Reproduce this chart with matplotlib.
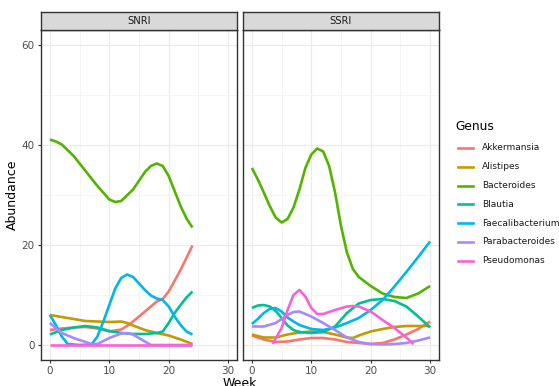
import numpy as np
import matplotlib
matplotlib.use('Agg')
import matplotlib.pyplot as plt
from matplotlib.lines import Line2D
from matplotlib.ticker import MultipleLocator

# generos y colores (paleta hue de ggplot)
GENEROS = ["Akkermansia", "Alistipes", "Bacteroides", "Blautia",
           "Faecalibacterium", "Parabacteroides", "Pseudomonas"]
COLORES = ["#F8766D", "#C49A00", "#53B400", "#00C094",
           "#00B6EB", "#A58AFF", "#FB61D7"]

# ---- SNRI (curvas suavizadas) ----
snri_akk_w = [0, 2, 4, 6, 8, 10, 12, 13, 14, 16, 18, 19, 20, 22, 24]
snri_akk_v = [3.0, 3.3, 3.5, 3.6, 3.3, 2.7, 3.1, 3.8, 4.7, 6.7, 8.7, 9.2, 10.7, 15.0, 19.9]

snri_ali_w = [0, 2, 4, 6, 8, 10, 12, 13, 14, 16, 18, 20, 22, 24]
snri_ali_v = [6.0, 5.6, 5.2, 4.8, 4.7, 4.6, 4.7, 4.4, 3.9, 3.0, 2.4, 1.9, 1.1, 0.2]

snri_bac_w = [0, 1, 2, 4, 6, 8, 10, 11, 12, 14, 16, 17, 18, 19, 20, 21, 22, 23, 24]
snri_bac_v = [41.1, 40.7, 40.1, 37.8, 34.8, 31.8, 29.1, 28.6, 28.8, 31.1, 34.6, 35.8, 36.3, 35.8,
              33.8, 30.8, 27.8, 25.3, 23.5]

snri_bla_w = [0, 2, 4, 6, 8, 10, 12, 14, 16, 18, 19, 20, 21, 22, 23, 24]
snri_bla_v = [2.1, 3.0, 3.5, 3.8, 3.5, 2.8, 2.4, 2.2, 2.2, 2.4, 2.7, 4.4, 6.4, 8.0, 9.5, 10.7]

snri_fae_w = [0, 1, 2, 3, 5, 7, 8, 9, 10, 11, 12, 13, 14, 15, 16, 17, 18, 19, 20, 21, 22, 23, 24]
snri_fae_v = [6.0, 4.0, 1.7, 0.2, 0.0, 0.1, 1.7, 4.7, 8.0, 11.3, 13.4, 14.1, 13.6, 12.3, 11.0,
              9.9, 9.3, 9.0, 7.7, 5.7, 4.0, 2.7, 2.1]

snri_par_w = [0, 1, 2, 4, 6, 7, 8, 10, 12, 13, 14, 16, 17, 20, 24]
snri_par_v = [4.4, 3.4, 2.4, 1.4, 0.6, 0.2, 0.2, 1.4, 2.3, 2.4, 2.1, 0.7, 0.0, 0.0, 0.0]

snri_pse_w = [0, 6, 12, 18, 24]
snri_pse_v = [0.0, 0.0, 0.0, 0.0, 0.0]

# ---- SSRI ----
ssri_akk_w = [0, 2, 4, 6, 8, 10, 12, 14, 16, 18, 20, 22, 24, 26, 28, 30]
ssri_akk_v = [1.9, 1.1, 0.6, 0.7, 1.1, 1.4, 1.4, 1.1, 0.6, 0.4, 0.2, 0.4, 1.1, 2.1, 3.2, 4.7]

ssri_ali_w = [0, 2, 4, 6, 8, 10, 12, 14, 16, 17, 18, 20, 22, 24, 26, 28, 30]
ssri_ali_v = [2.1, 1.5, 1.5, 2.1, 2.5, 2.7, 2.6, 2.1, 1.5, 1.4, 1.9, 2.7, 3.2, 3.6, 3.8, 3.8, 3.8]

ssri_bac_w = [0, 1, 2, 3, 4, 5, 6, 7, 8, 9, 10, 11, 12, 13, 14, 15, 16, 17, 18, 20, 22, 24,
              26, 28, 30]
ssri_bac_v = [35.4, 33.1, 30.5, 27.8, 25.5, 24.5, 25.2, 27.5, 31.1, 35.4, 38.1, 39.3, 38.7,
              35.8, 30.5, 23.8, 18.5, 15.2, 13.6, 11.8, 10.3, 9.6, 9.4, 10.3, 11.8]

ssri_bla_w = [0, 1, 2, 3, 4, 5, 6, 7, 8, 10, 12, 14, 16, 18, 20, 22, 24, 26, 28, 30]
ssri_bla_v = [7.4, 7.9, 8.0, 7.7, 6.8, 5.4, 3.9, 3.0, 2.6, 2.4, 2.6, 3.7, 6.4, 8.3, 9.0, 9.2,
              8.8, 7.7, 5.7, 3.5]

ssri_fae_w = [0, 1, 2, 3, 4, 5, 6, 7, 8, 10, 12, 14, 16, 18, 20, 22, 24, 26, 28, 30]
ssri_fae_v = [4.2, 5.2, 6.4, 7.2, 7.4, 6.7, 5.5, 4.7, 4.0, 3.2, 3.0, 3.5, 4.4, 5.4, 7.0, 9.0,
              11.7, 14.6, 17.6, 20.7]

ssri_par_w = [0, 2, 4, 6, 7, 8, 10, 12, 14, 16, 18, 20, 22, 24, 26, 28, 30]
ssri_par_v = [3.7, 3.7, 4.4, 6.0, 6.6, 6.7, 5.7, 4.4, 3.0, 1.5, 0.6, 0.2, 0.1, 0.2, 0.4, 0.9, 1.5]

ssri_pse_w = [3.5, 5, 6, 7, 8, 9, 10, 11, 12, 14, 16, 17, 18, 20, 22, 24, 26, 27.2]
ssri_pse_v = [0.2, 3.4, 7.0, 10.0, 11.0, 9.7, 7.4, 6.2, 6.2, 7.0, 7.7, 7.8, 7.7, 6.7, 5.0, 3.4,
              1.5, 0.2]

PANELES = {
    "SNRI": [(snri_akk_w, snri_akk_v), (snri_ali_w, snri_ali_v), (snri_bac_w, snri_bac_v),
             (snri_bla_w, snri_bla_v), (snri_fae_w, snri_fae_v), (snri_par_w, snri_par_v),
             (snri_pse_w, snri_pse_v)],
    "SSRI": [(ssri_akk_w, ssri_akk_v), (ssri_ali_w, ssri_ali_v), (ssri_bac_w, ssri_bac_v),
             (ssri_bla_w, ssri_bla_v), (ssri_fae_w, ssri_fae_v), (ssri_par_w, ssri_par_v),
             (ssri_pse_w, ssri_pse_v)],
}

W, H = 559, 386
fig = plt.figure(figsize=(W / 100, H / 100), dpi=100)
fig.patch.set_facecolor("white")

GRIS_TXT = "#4D4D4D"
BORDE = "#333333"

posiciones = {"SNRI": 41, "SSRI": 243}
ancho_px = 196
for i, (panel, series) in enumerate(PANELES.items()):
    x0 = posiciones[panel]
    ax = fig.add_axes([x0 / W, (H - 360) / H, ancho_px / W, 330 / H])
    for (sem, val), col in zip(series, COLORES):
        ax.plot(sem, val, color=col, lw=1.9, solid_capstyle="butt")
    ax.set_xlim(-1.5, 31.5)
    ax.set_ylim(-3, 63)
    ax.xaxis.set_major_locator(MultipleLocator(10))
    ax.xaxis.set_minor_locator(MultipleLocator(5))
    ax.yaxis.set_major_locator(MultipleLocator(20))
    ax.yaxis.set_minor_locator(MultipleLocator(10))
    ax.grid(True, which="major", color="#EBEBEB", lw=0.9)
    ax.grid(True, which="minor", color="#F2F2F2", lw=0.5)
    ax.set_axisbelow(True)
    for s in ax.spines.values():
        s.set_color(BORDE)
        s.set_linewidth(1.0)
    ax.tick_params(which="major", length=2.5, color=BORDE, labelsize=7.5,
                   labelcolor=GRIS_TXT, pad=2)
    ax.tick_params(which="minor", length=0)
    if i > 0:
        ax.tick_params(axis="y", left=False, labelleft=False)

    # franja del panel
    sax = fig.add_axes([x0 / W, (H - 30) / H, ancho_px / W, 18 / H])
    sax.set_xticks([])
    sax.set_yticks([])
    sax.set_facecolor("#D9D9D9")
    for s in sax.spines.values():
        s.set_color(BORDE)
        s.set_linewidth(1.0)
    sax.text(0.5, 0.5, panel, ha="center", va="center", fontsize=7.2, color="#1A1A1A",
             transform=sax.transAxes)

fig.text(12 / W, 1 - 195 / H, "Abundance", rotation=90, ha="center", va="center", fontsize=9)
fig.text(240 / W, 1 - 377 / H, "Week", ha="center", va="top", fontsize=9)

# leyenda manual
fig.text(455 / W, 1 - 127 / H, "Genus", ha="left", va="center", fontsize=8.8)
for k, (gen, col) in enumerate(zip(GENEROS, COLORES)):
    yy = 1 - (148 + 18.8 * k) / H
    fig.add_artist(Line2D([458 / W, 473 / W], [yy, yy], color=col, lw=1.9))
    fig.text(482 / W, yy, gen, ha="left", va="center", fontsize=6.5, color="#1A1A1A")

fig.savefig("out.png", dpi=100)
